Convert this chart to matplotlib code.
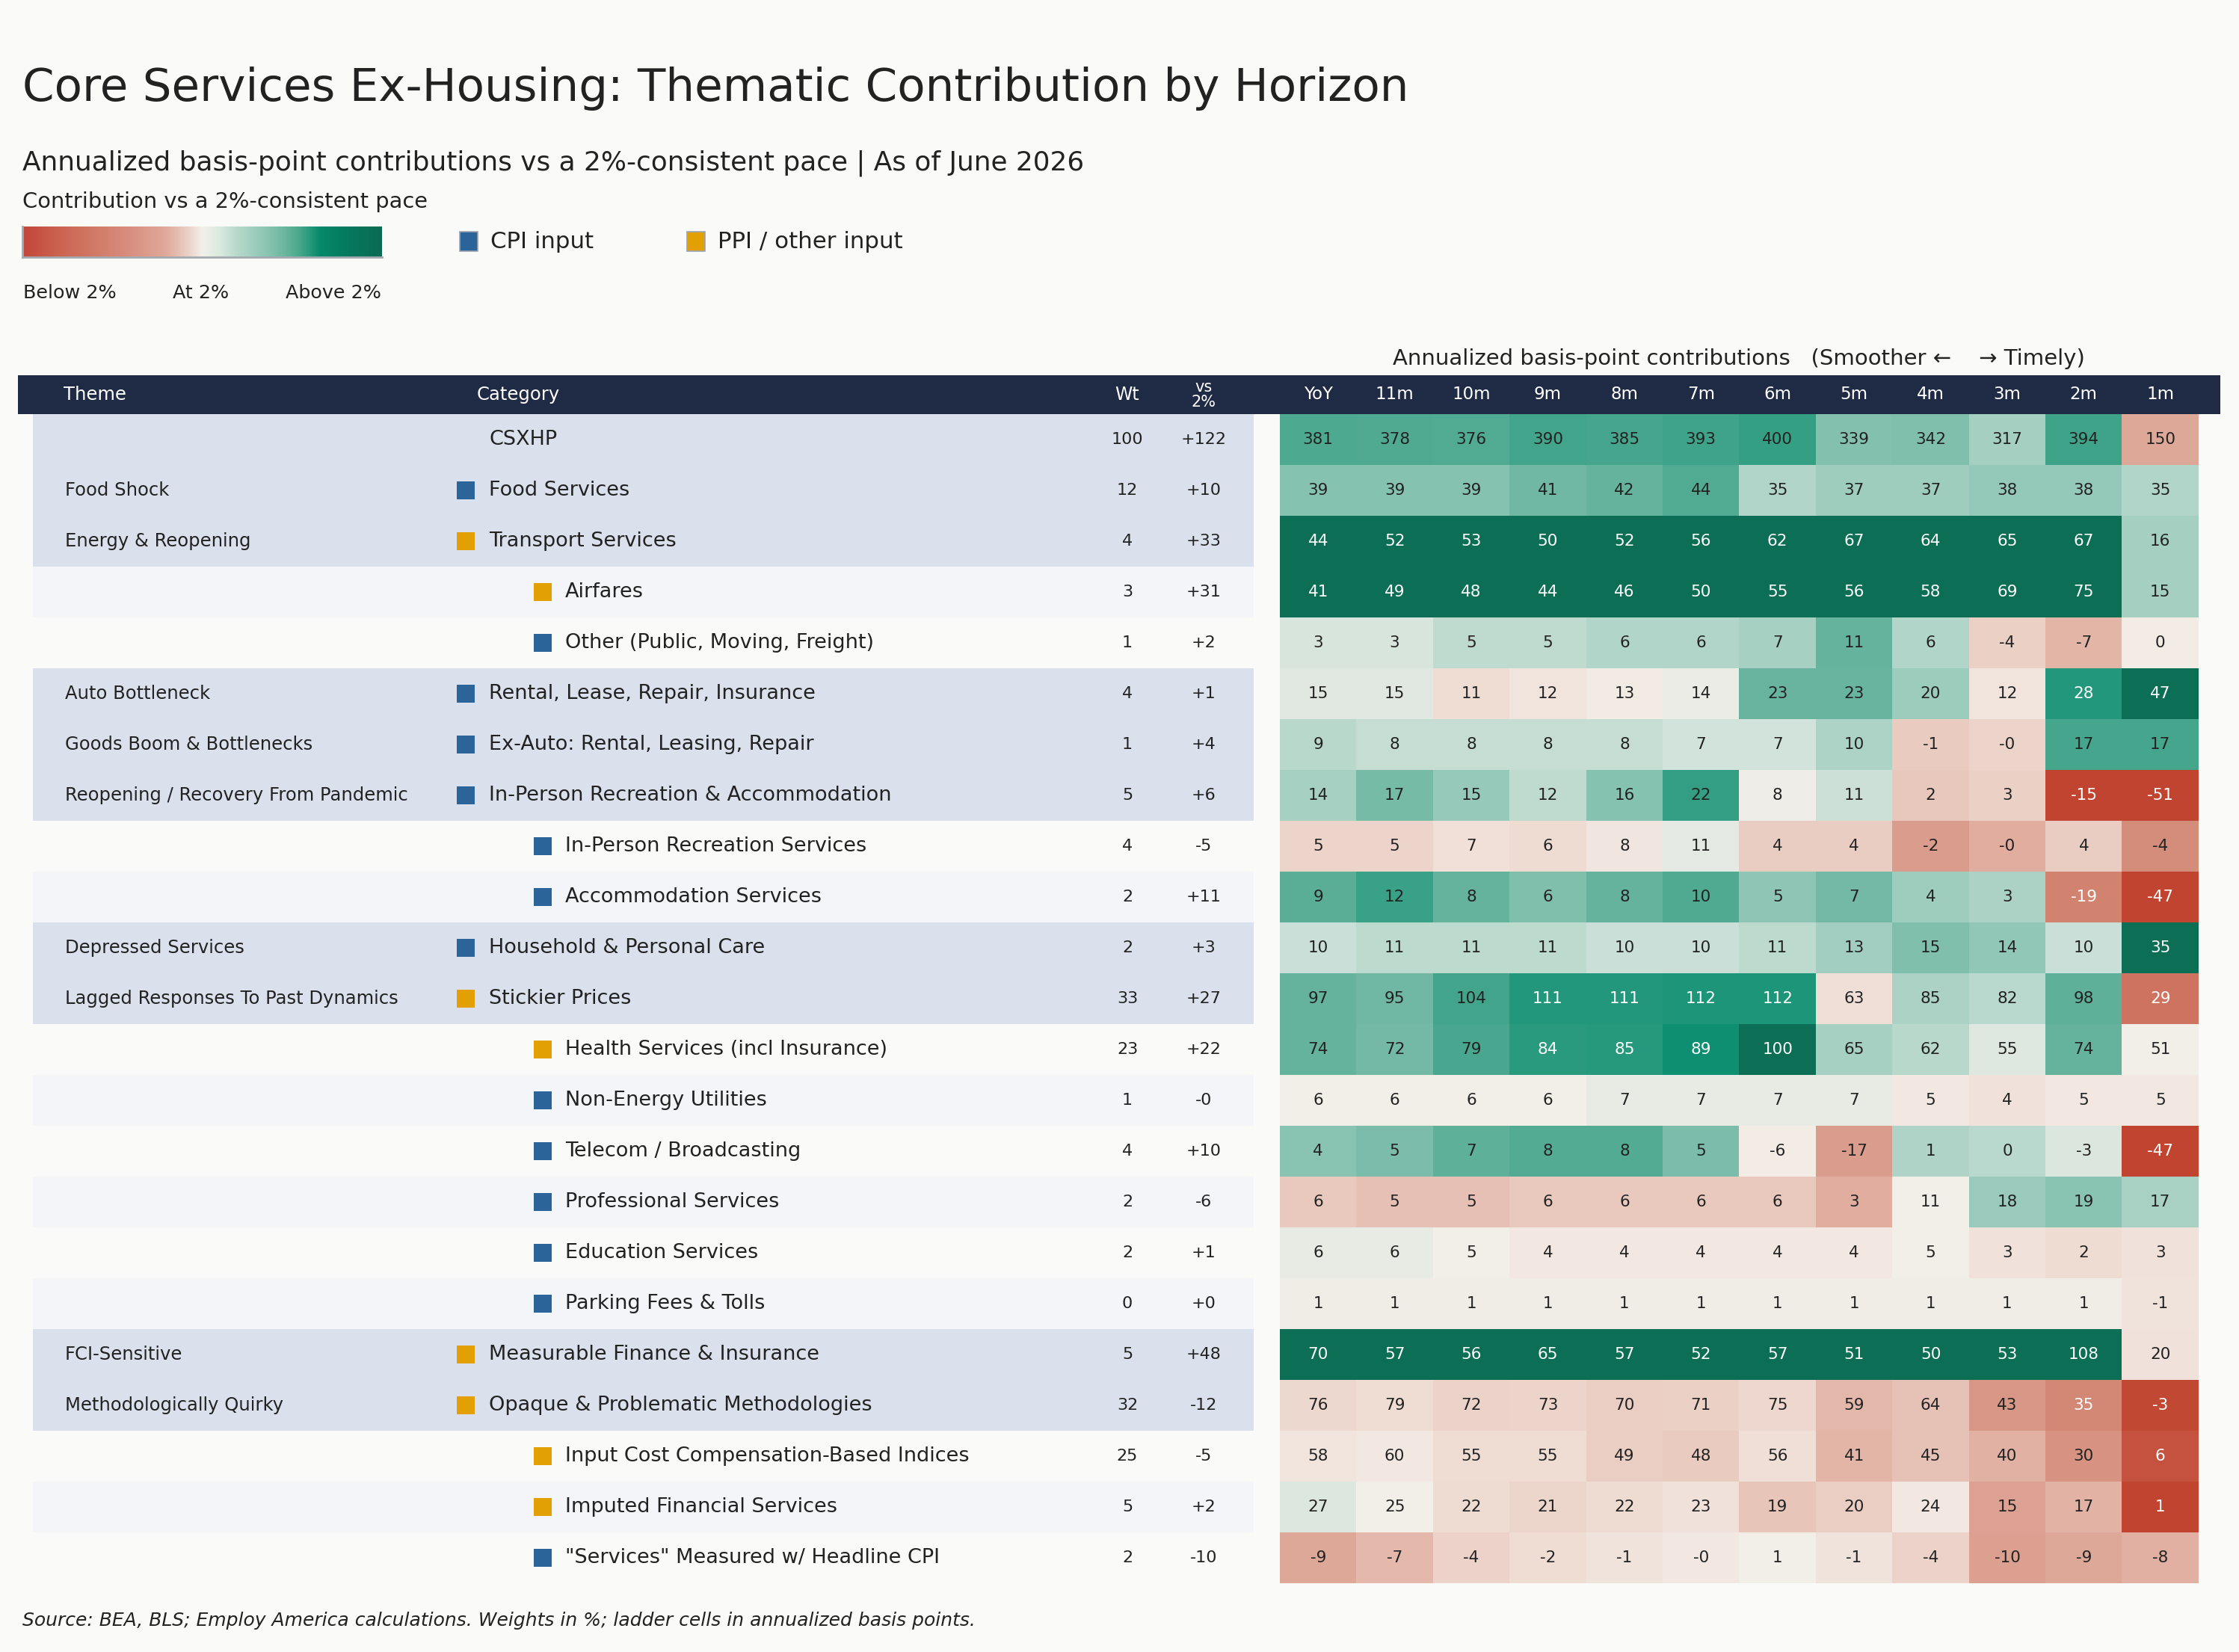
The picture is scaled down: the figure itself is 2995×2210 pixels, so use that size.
import numpy as np
import matplotlib
matplotlib.use("Agg")
import matplotlib.pyplot as plt
from matplotlib.colors import LinearSegmentedColormap, Normalize
from matplotlib.patches import Rectangle

W, H = 2995, 2210
BG = "#fafaf8"
INK = "#222222"
NAVY = "#1f2a44"
CPI_C = "#2b6498"
PPI_C = "#e2a004"
FONT = ["DejaVu Sans"]
plt.rcParams["font.family"] = FONT

# ---------------- data ----------------
horizons = ["YoY", "11m", "10m", "9m", "8m", "7m", "6m", "5m", "4m", "3m", "2m", "1m"]

themes = ["", "Food Shock", "Energy & Reopening", "", "", "Auto Bottleneck",
          "Goods Boom & Bottlenecks", "Reopening / Recovery From Pandemic", "", "",
          "Depressed Services", "Lagged Responses To Past Dynamics", "", "", "", "", "",
          "", "FCI-Sensitive", "Methodologically Quirky", "", "", ""]

categories = ["CSXHP", "Food Services", "Transport Services", "Airfares",
              "Other (Public, Moving, Freight)", "Rental, Lease, Repair, Insurance",
              "Ex-Auto: Rental, Leasing, Repair", "In-Person Recreation & Accommodation",
              "In-Person Recreation Services", "Accommodation Services",
              "Household & Personal Care", "Stickier Prices",
              "Health Services (incl Insurance)", "Non-Energy Utilities",
              "Telecom / Broadcasting", "Professional Services", "Education Services",
              "Parking Fees & Tolls", "Measurable Finance & Insurance",
              "Opaque & Problematic Methodologies",
              "Input Cost Compensation-Based Indices", "Imputed Financial Services",
              "\"Services\" Measured w/ Headline CPI"]

levels = [0, 1, 1, 2, 2, 1, 1, 1, 2, 2, 1, 1, 2, 2, 2, 2, 2, 2, 1, 1, 2, 2, 2]

inputs = ["", "CPI", "PPI", "PPI", "CPI", "CPI", "CPI", "CPI", "CPI", "CPI", "CPI",
          "PPI", "PPI", "CPI", "CPI", "CPI", "CPI", "CPI", "PPI", "PPI", "PPI", "PPI", "CPI"]

weights = [100, 12, 4, 3, 1, 4, 1, 5, 4, 2, 2, 33, 23, 1, 4, 2, 2, 0, 5, 32, 25, 5, 2]

vs_2pct = [122, 10, 33, 31, 2, 1, 4, 6, -5, 11, 3, 27, 22, -0.0, 10, -6, 1, 0, 48, -12, -5, 2, -10]

contrib = [
    [381, 378, 376, 390, 385, 393, 400, 339, 342, 317, 394, 150],
    [39, 39, 39, 41, 42, 44, 35, 37, 37, 38, 38, 35],
    [44, 52, 53, 50, 52, 56, 62, 67, 64, 65, 67, 16],
    [41, 49, 48, 44, 46, 50, 55, 56, 58, 69, 75, 15],
    [3, 3, 5, 5, 6, 6, 7, 11, 6, -4, -7, 0],
    [15, 15, 11, 12, 13, 14, 23, 23, 20, 12, 28, 47],
    [9, 8, 8, 8, 8, 7, 7, 10, -1, -0.0, 17, 17],
    [14, 17, 15, 12, 16, 22, 8, 11, 2, 3, -15, -51],
    [5, 5, 7, 6, 8, 11, 4, 4, -2, -0.0, 4, -4],
    [9, 12, 8, 6, 8, 10, 5, 7, 4, 3, -19, -47],
    [10, 11, 11, 11, 10, 10, 11, 13, 15, 14, 10, 35],
    [97, 95, 104, 111, 111, 112, 112, 63, 85, 82, 98, 29],
    [74, 72, 79, 84, 85, 89, 100, 65, 62, 55, 74, 51],
    [6, 6, 6, 6, 7, 7, 7, 7, 5, 4, 5, 5],
    [4, 5, 7, 8, 8, 5, -6, -17, 1, 0, -3, -47],
    [6, 5, 5, 6, 6, 6, 6, 3, 11, 18, 19, 17],
    [6, 6, 5, 4, 4, 4, 4, 4, 5, 3, 2, 3],
    [1, 1, 1, 1, 1, 1, 1, 1, 1, 1, 1, -1],
    [70, 57, 56, 65, 57, 52, 57, 51, 50, 53, 108, 20],
    [76, 79, 72, 73, 70, 71, 75, 59, 64, 43, 35, -3],
    [58, 60, 55, 55, 49, 48, 56, 41, 45, 40, 30, 6],
    [27, 25, 22, 21, 22, 23, 19, 20, 24, 15, 17, 1],
    [-9, -7, -4, -2, -1, -0.0, 1, -1, -4, -10, -9, -8],
]

# row-level colour reference: bp level read as "at 2%" and bp span to full colour
pace_base = [246, 27.5, 10, 9, 0.5, 13.5, 4, 7.5, 9.5, -4, 6.5, 69, 51, 6, -5.5, 11, 5, 0.8, 22, 91, 63, 25, 1]
pace_span = [237, 30, 20, 20, 22, 20, 22, 22, 25, 25, 21, 58, 48, 22, 25, 21, 22, 22, 22, 98, 64, 23, 25]

# ---------------- helpers ----------------
def fx(px):
    return px / W

def fy(py):
    return 1 - py / H

ROW_H = 68.0
ROW0_TOP = 554.0

def row_of(py):
    return (py - ROW0_TOP) / ROW_H - 0.5

# colour scale as shown in the legend bar
bar_cmap = LinearSegmentedColormap.from_list(
    "pace_bar",
    [(0.0, "#c2463a"), (0.1, "#cb6350"), (0.2, "#d27a68"), (0.3, "#d98f80"),
     (0.4, "#e0aa9c"), (0.46, "#ead0c6"), (0.5, "#f3f0e9"), (0.55, "#d9e9df"),
     (0.6, "#b6d8cb"), (0.7, "#80c0ab"), (0.77, "#4aa98c"), (0.83, "#06896a"),
     (0.9, "#047a5e"), (1.0, "#0b6b54")])
# same scale, indexed by the row tone used for cells
cell_cmap = LinearSegmentedColormap.from_list(
    "pace_cell",
    [(0.0, "#c0442f"), (0.05, "#c4513d"), (0.175, "#d07b67"), (0.25, "#d89584"),
     (0.3, "#dfa99a"), (0.4, "#ecd2c8"), (0.5, "#f4efe9"), (0.535, "#e1e9e2"),
     (0.575, "#d0e2da"), (0.65, "#a5d0c2"), (0.75, "#60b19a"), (0.825, "#37a085"),
     (0.925, "#00896b"), (1.0, "#0b6e55")])
norm = Normalize(-1, 1)

vals = np.array(contrib, dtype=float)
base = np.array(pace_base, dtype=float)
span = np.array(pace_span, dtype=float)
tone = np.clip((vals - base[:, None]) / span[:, None], -1, 1)
n_rows, n_cols = vals.shape

fig = plt.figure(figsize=(W / 100, H / 100), dpi=100, facecolor=BG)

# ---------------- titles ----------------
fig.text(fx(30), fy(135), "Core Services Ex-Housing: Thematic Contribution by Horizon",
         fontsize=44, color=INK, va="baseline", ha="left")
fig.text(fx(30), fy(227),
         "Annualized basis-point contributions vs a 2%-consistent pace | As of June 2026",
         fontsize=25.85, color=INK, va="baseline", ha="left")
fig.text(fx(30), fy(278), "Contribution vs a 2%-consistent pace",
         fontsize=20.8, color=INK, va="baseline", ha="left")

# colour scale legend
cax = fig.add_axes([fx(30), fy(344), 481 / W, 41 / H])
cax.imshow(np.linspace(-1, 1, 512)[None, :], cmap=bar_cmap, norm=norm, aspect="auto")
cax.set_xticks([]); cax.set_yticks([])
for s in ["top", "right"]:
    cax.spines[s].set_visible(False)
for s in ["left", "bottom"]:
    cax.spines[s].set_color("#a5a9b0")
    cax.spines[s].set_linewidth(2)
fig.text(fx(31), fy(399), "Below 2%", fontsize=18.3, color=INK, va="baseline", ha="left")
fig.text(fx(269), fy(399), "At 2%", fontsize=18.3, color=INK, va="baseline", ha="center")
fig.text(fx(510), fy(399), "Above 2%", fontsize=18.3, color=INK, va="baseline", ha="right")

# input legend
for x0, col, lab in [(615, CPI_C, "CPI input"), (919, PPI_C, "PPI / other input")]:
    fig.patches.append(Rectangle((fx(x0), fy(336)), 24 / W, 26 / H, transform=fig.transFigure,
                                 facecolor=col, edgecolor="#9aa3b0", linewidth=1.2))
    fig.text(fx(x0 + 41), fy(323), lab, fontsize=22.2, color=INK, va="center", ha="left")

# ---------------- table (left) ----------------
tab = fig.add_axes([0, 0, 1, 1], zorder=0)
tab.set_xlim(0, W)
tab.set_ylim(row_of(H), row_of(0))
tab.axis("off")

rows = np.arange(n_rows)
row_colors = []
for i in rows:
    if levels[i] <= 1:
        row_colors.append("#dae1ec")
    elif i % 2 == 1:
        row_colors.append("#f3f5f9")
    else:
        row_colors.append(BG)
tab.barh(rows, 1677 - 44, left=44, height=1.0, color=row_colors, linewidth=0, zorder=1)

# header bar
hb_top = row_of(502)
tab.add_patch(Rectangle((24, -0.5), 2970 - 24, hb_top - (-0.5), facecolor=NAVY,
                        edgecolor="none", zorder=2))
hy = row_of(528)
tab.text(85, hy, "Theme", color="white", fontsize=17.5, va="center", ha="left", zorder=3)
tab.text(638, hy, "Category", color="white", fontsize=17.5, va="center", ha="left", zorder=3)
tab.text(1508, hy, "Wt", color="white", fontsize=17, va="center", ha="center", zorder=3)
tab.text(1610, hy, "vs\n2%", color="white", fontsize=15, va="center", ha="center",
         linespacing=0.95, zorder=3)

sq_x = {1: 623, 2: 726}
tx_x = {0: 654, 1: 654, 2: 756}
sx, sy, sc = [], [], []
for i in rows:
    if themes[i]:
        tab.text(87, i, themes[i], fontsize=17.5, color=INK, va="center", ha="left", zorder=3)
    tab.text(tx_x[levels[i]], i, categories[i], fontsize=19.5, color=INK, va="center",
             ha="left", zorder=3)
    if inputs[i]:
        sx.append(sq_x[levels[i]])
        sy.append(i)
        sc.append(CPI_C if inputs[i] == "CPI" else PPI_C)
    tab.text(1508, i, f"{weights[i]:.0f}", fontsize=16, color=INK, va="center",
             ha="center", zorder=3)
    tab.text(1610, i, f"{vs_2pct[i]:+.0f}", fontsize=16, color=INK, va="center",
             ha="center", zorder=3)
tab.scatter(sx, sy, marker="s", s=290, c=sc, linewidths=0, zorder=3)

# ---------------- heatmap ----------------
hx = fig.add_axes([fx(1712), fy(ROW0_TOP + n_rows * ROW_H), 1229 / W, n_rows * ROW_H / H],
                  zorder=2)
hx.imshow(tone, cmap=cell_cmap, norm=norm, aspect="auto", interpolation="nearest")
hx.axis("off")
for i in range(n_rows):
    for j in range(n_cols):
        t = tone[i, j]
        tc = "white" if (t > 0.67 or t < -0.56) else INK
        hx.text(j, i, f"{vals[i, j]:.0f}", fontsize=15.5, color=tc, ha="center", va="center")
for j, h in enumerate(horizons):
    hx.text(j, hy, h, fontsize=16.5, color="white", ha="center", va="center", clip_on=False)

fig.text(fx(2326), fy(488),
         "Annualized basis-point contributions   (Smoother \u2190    \u2192 Timely)",
         fontsize=21, color=INK, va="baseline", ha="center")

fig.text(fx(30), fy(2175),
         "Source: BEA, BLS; Employ America calculations. Weights in %; ladder cells in annualized basis points.",
         fontsize=18, color=INK, style="italic", va="baseline", ha="left")

fig.savefig("out.png", dpi=100, facecolor=BG)
